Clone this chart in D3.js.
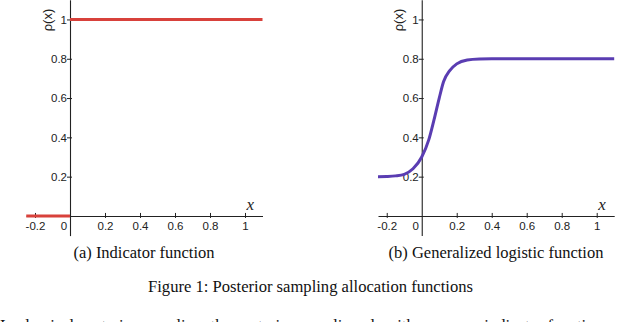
<!DOCTYPE html>
<html><head><meta charset="utf-8">
<script src="https://cdn.jsdelivr.net/npm/d3@7"></script>
<style>body{margin:0;background:#fff}svg{display:block}</style>
</head><body>
<script>
// ---- data ----
const xTicks = [-0.2, 0.2, 0.4, 0.6, 0.8, 1];
const yTicks = [0.2, 0.4, 0.6, 0.8, 1];
const xTickLabels = ["-0.2", "0.2", "0.4", "0.6", "0.8", "1"];
const yTickLabels = ["0.2", "0.4", "0.6", "0.8", "1"];
// indicator function (two pieces)
const indLowX = [-0.25, 0];
const indLowY = [0, 0];
const indHighX = [0, 1.1];
const indHighY = [1, 1];
// generalized logistic
const logX = [-0.25, -0.2, -0.15, -0.1, -0.05, 0, 0.04, 0.07, 0.1, 0.125, 0.16, 0.2, 0.26, 0.33, 0.4, 0.6, 0.8, 1.1];
const logY = [0.2, 0.201, 0.204, 0.212, 0.24, 0.3, 0.387, 0.489, 0.6, 0.684, 0.74, 0.774, 0.794, 0.799, 0.8, 0.8, 0.8, 0.8];
const captionA = "(a) Indicator function";
const captionB = "(b) Generalized logistic function";
const figCaption = "Figure 1: Posterior sampling allocation functions";
const bodyText = "In classical posterior sampling, the posterior sampling algorithm uses an indicator function";

const W = 640, H = 322;
const svg = d3.select("body").append("svg").attr("width", W).attr("height", H);

const sans = "'Liberation Sans', Arial, sans-serif";
const serif = "'Liberation Serif', 'DejaVu Serif', serif";

function panel(x0px, x1px, lines) {
  const x = d3.scaleLinear().domain([-0.25, 1.1]).range([x0px, x1px]);
  const y = d3.scaleLinear().domain([-0.1, 1.1]).range([235.6, -0.2]);
  const g = svg.append("g");
  // x axis
  const xa = g.append("g").attr("transform", `translate(0,${y(0)})`)
    .call(d3.axisBottom(x).tickValues(xTicks).tickSize(3).tickSizeOuter(0)
      .tickFormat((d, i) => xTickLabels[i]));
  xa.select(".domain").attr("stroke", "#222").attr("stroke-width", 1.1);
  xa.selectAll(".tick line").attr("y1", -3).attr("y2", 2).attr("stroke", "#222");
  xa.selectAll(".tick text").attr("y", 6).attr("dy", "0.71em")
    .attr("font-family", sans).attr("font-size", 11.5).attr("fill", "#222");
  xa.append("text").attr("x", x(0) - 6).attr("y", 6).attr("dy", "0.71em")
    .attr("text-anchor", "middle").attr("font-family", sans).attr("font-size", 11.5)
    .attr("fill", "#222").text("0");
  // y axis
  const ya = g.append("g").attr("transform", `translate(${x(0)},0)`)
    .call(d3.axisLeft(y).tickValues(yTicks).tickSize(3).tickSizeOuter(0)
      .tickFormat((d, i) => yTickLabels[i]));
  ya.select(".domain").attr("stroke", "#222").attr("stroke-width", 1.1);
  ya.selectAll(".tick line").attr("x1", -3).attr("x2", 2).attr("stroke", "#222");
  ya.selectAll(".tick text").attr("x", -3)
    .attr("font-family", sans).attr("font-size", 11.5).attr("fill", "#222");
  // axis labels
  g.append("text").attr("transform", `translate(${x(0) - 23},${20}) rotate(-90)`)
    .attr("text-anchor", "middle").attr("dy", "0.35em")
    .attr("font-family", sans).attr("font-size", 13).attr("fill", "#222").text("ρ(x)");
  g.append("text").attr("x", x(1.03)).attr("y", y(0.03))
    .attr("text-anchor", "middle").attr("font-family", serif).attr("font-style", "italic")
    .attr("font-size", 17).attr("fill", "#222").text("x");
  // lines
  const line = d3.line().x(d => x(d[0])).y(d => y(d[1])).curve(d3.curveMonotoneX);
  lines.forEach(l => {
    g.append("path").datum(d3.zip(l.xs, l.ys)).attr("d", line)
      .attr("fill", "none").attr("stroke", l.color).attr("stroke-width", l.w)
      .attr("stroke-linecap", "butt");
  });
}

panel(26.25, 262.5, [
  {xs: indLowX, ys: indLowY, color: "#d8413b", w: 3},
  {xs: indHighX, ys: indHighY, color: "#d8413b", w: 3}
]);
panel(378, 614.2, [
  {xs: logX, ys: logY, color: "#5a3db2", w: 3}
]);

svg.append("text").attr("x", 144).attr("y", 258).attr("text-anchor", "middle")
  .attr("font-family", serif).attr("font-size", 16.5).attr("fill", "#111").text(captionA);
svg.append("text").attr("x", 496).attr("y", 258).attr("text-anchor", "middle")
  .attr("font-family", serif).attr("font-size", 16.5).attr("fill", "#111").text(captionB);
svg.append("text").attr("x", 310.5).attr("y", 292).attr("text-anchor", "middle")
  .attr("font-family", serif).attr("font-size", 16.6).attr("fill", "#111").text(figCaption);
svg.append("text").attr("x", 0).attr("y", 331)
  .attr("font-family", serif).attr("font-size", 16.6).attr("fill", "#111").text(bodyText);
</script>
</body></html>
